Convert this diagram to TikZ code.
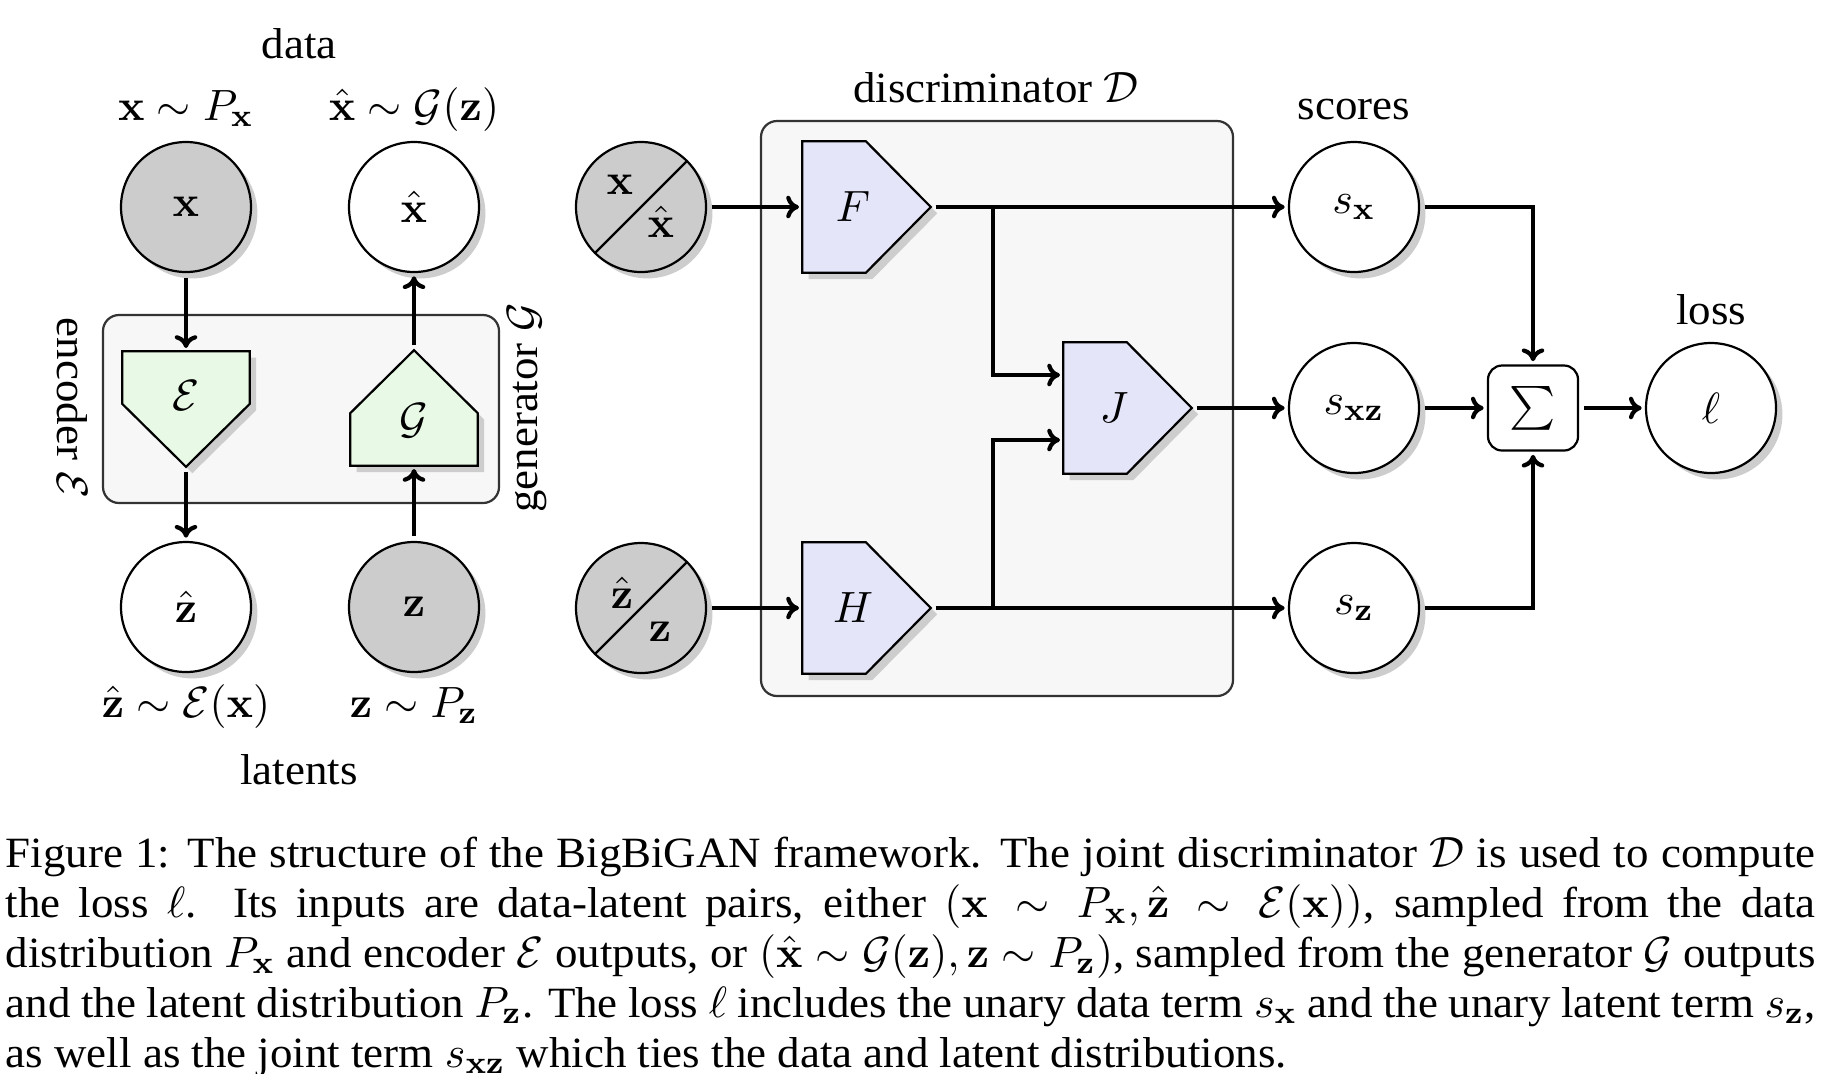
\documentclass[tikz,border=0pt]{standalone}
\usepackage{amsmath}
\usepackage[no-math]{fontspec}
\setmainfont{Liberation Serif}[FakeStretch=1.04]
\usetikzlibrary{shadows,arrows.meta,calc}
\definecolor{encfill}{RGB}{232,250,230}
\definecolor{disfill}{RGB}{229,229,250}
\definecolor{obsfill}{RGB}{204,204,204}
\definecolor{boxfill}{RGB}{247,247,247}
\definecolor{shadowgray}{RGB}{205,205,205}
\newcommand\pentdown[2]{\path[penta,fill=#2] (#1.north west) -- (#1.north east) -- ($(#1.south east)+(0,-63)$) -- (#1.south) -- ($(#1.south west)+(0,-63)$) -- cycle;}
\newcommand\pentup[2]{\path[penta,fill=#2] (#1.south west) -- (#1.south east) -- ($(#1.north east)+(0,63)$) -- (#1.north) -- ($(#1.north west)+(0,63)$) -- cycle;}
\newcommand\pentright[2]{\path[penta,fill=#2] (#1.north west) -- ($(#1.north east)+(-65,0)$) -- (#1.east) -- ($(#1.south east)+(-65,0)$) -- (#1.south west) -- cycle;}
\begin{document}
\begin{tikzpicture}[x=0.25pt,y=-0.25pt,
  lbl/.style={font=\fontsize{10.8}{13}\selectfont, inner sep=0pt},
  shadowed/.style={drop shadow={shadow xshift=1.6pt, shadow yshift=-1.6pt, fill=shadowgray, opacity=1}},
  var/.style={circle, draw, line width=0.55pt, minimum size=32.5pt, inner sep=0pt, fill=white, shadowed, font=\fontsize{10.8}{13}\selectfont},
  obs/.style={var, fill=obsfill},
  penta/.style={draw, line width=0.55pt, shadowed},
  hold/.style={rectangle, inner sep=0pt},
  groupbox/.style={draw=black!80, line width=0.55pt, rounded corners=4pt, fill=boxfill},
  sumbox/.style={draw, line width=0.55pt, rounded corners=3.5pt, fill=white, minimum width=22.5pt, minimum height=21.25pt, inner sep=0pt, font=\fontsize{11.2}{13}\selectfont},
  conn/.style={line width=1.05pt, -{To[length=3.2pt,width=5.6pt]}, shorten >=0.8pt, shorten <=1.2pt},
  capline/.style={anchor=base west, inner sep=0pt, font=\fontsize{10.8}{13}\selectfont}]
\useasboundingbox (0,0) rectangle (1827,1073);

% ---------- group boxes ----------
\path[groupbox] (103,315) rectangle (499,503);
\path[groupbox] (761,121) rectangle (1233,696);

% ---------- left part ----------
\node[obs] (x) at (186,207) {$\mathbf{x}$};
\node[var] (xh) at (414,207) {$\hat{\mathbf{x}}$};
\node[var] (zh) at (186,607) {$\hat{\mathbf{z}}$};
\node[obs] (z) at (414,607) {$\mathbf{z}$};

\node[hold, minimum width=31.5pt, minimum height=28.5pt] (E) at (186,409) {};
\pentdown{E}{encfill}
\node[lbl] (Elbl) at (186,396) {$\mathcal{E}$};
\node[hold, minimum width=31.5pt, minimum height=28.5pt] (G) at (414,408) {};
\pentup{G}{encfill}
\node[lbl] (Glbl) at (414,421) {$\mathcal{G}$};

\node[lbl, anchor=base] (data) at (299,58) {data};
\node[lbl, anchor=base] (lx) at (186,120) {$\mathbf{x}\sim P_{\mathbf{x}}$};
\node[lbl, anchor=base] (lxh) at (414,120) {$\hat{\mathbf{x}}\sim\mathcal{G}(\mathbf{z})$};
\node[lbl, anchor=base] (lzh) at (186,717) {$\hat{\mathbf{z}}\sim\mathcal{E}(\mathbf{x})$};
\node[lbl, anchor=base] (lz) at (414,717) {$\mathbf{z}\sim P_{\mathbf{z}}$};
\node[lbl, anchor=base] (latents) at (299,784) {latents};
\node[lbl, rotate=-90] (enclbl) at (72,408) {encoder $\mathcal{E}$};
\node[lbl, rotate=90] (genlbl) at (527,408) {generator $\mathcal{G}$};

\draw[conn] (x) -- (E.north);
\draw[conn] (E.south) -- (zh);
\draw[conn] (z) -- (G.south);
\draw[conn] (G.north) -- (xh);

% ---------- discriminator ----------
\node[obs] (xx) at (641,207) {};
\draw[line width=0.55pt] (xx.225) -- (xx.45);
\node[lbl] (xxa) at ($(xx)+(-21,-22)$) {$\mathbf{x}$};
\node[lbl] (xxb) at ($(xx)+(20,15)$) {$\hat{\mathbf{x}}$};
\node[obs] (zz) at (641,608) {};
\draw[line width=0.55pt] (zz.225) -- (zz.45);
\node[lbl] (zza) at ($(zz)+(-19,-15)$) {$\hat{\mathbf{z}}$};
\node[lbl] (zzb) at ($(zz)+(19,24)$) {$\mathbf{z}$};

\node[hold, minimum width=31.75pt, minimum height=32.5pt] (F) at (866.5,207) {};
\pentright{F}{disfill}
\node[lbl] (Flbl) at (853,207) {$F$};
\node[hold, minimum width=31.75pt, minimum height=32.5pt] (H) at (866.5,608) {};
\pentright{H}{disfill}
\node[lbl] (Hlbl) at (853,608) {$H$};
\node[hold, minimum width=31.75pt, minimum height=32.5pt] (J) at (1127.5,408) {};
\pentright{J}{disfill}
\node[lbl] (Jlbl) at (1114,408) {$J$};

\node[lbl, anchor=base] (disc) at (996,102) {discriminator $\mathcal{D}$};

% ---------- scores and loss ----------
\node[var] (sx) at (1354,207) {$s_{\mathbf{x}}$};
\node[var] (sxz) at (1354,408) {$s_{\mathbf{xz}}$};
\node[var] (sz) at (1354,608) {$s_{\mathbf{z}}$};
\node[sumbox] (sum) at (1533,408) {$\textstyle\sum$};
\node[var] (loss) at (1711,408) {$\ell$};
\node[lbl, anchor=base] (scores) at (1354,119) {scores};
\node[lbl, anchor=base] (losslbl) at (1711,324) {loss};

\coordinate (bF) at (993,207);
\coordinate (bH) at (993,608);
\coordinate (Jin1) at ($(J.west)+(0,-33)$);
\coordinate (Jin2) at ($(J.west)+(0,32)$);

\draw[conn] (xx) -- (F.west);
\draw[conn] (zz) -- (H.west);
\draw[conn] (F.east) -- (sx);
\draw[conn] (H.east) -- (sz);
\draw[conn, shorten <=0pt] (bF) |- (Jin1);
\draw[conn, shorten <=0pt] (bH) |- (Jin2);
\draw[conn] (J.east) -- (sxz);
\draw[conn] (sx) -| (sum);
\draw[conn] (sz) -| (sum);
\draw[conn] (sxz) -- (sum);
\draw[conn] (sum) -- (loss);

% ---------- caption ----------
\node[capline] (c1) at (5,867) {\makebox[452.5pt][s]{Figure 1: The structure of the BigBiGAN framework. The joint discriminator $\mathcal{D}$ is used to compute}};
\node[capline] (c2) at (5,917) {\makebox[452.5pt][s]{the loss $\ell$.\ \ Its inputs are data-latent pairs, either $(\mathbf{x}\sim P_{\mathbf{x}},\hat{\mathbf{z}}\sim\mathcal{E}(\mathbf{x}))$, sampled from the data}};
\node[capline] (c3) at (5,967) {\makebox[452.5pt][s]{distribution $P_{\mathbf{x}}$ and encoder $\mathcal{E}$ outputs, or $(\hat{\mathbf{x}}\sim\mathcal{G}(\mathbf{z}),\mathbf{z}\sim P_{\mathbf{z}})$, sampled from the generator $\mathcal{G}$ outputs}};
\node[capline] (c4) at (5,1017) {\makebox[452.5pt][s]{and the latent distribution $P_{\mathbf{z}}$. The loss $\ell$ includes the unary data term $s_{\mathbf{x}}$ and the unary latent term $s_{\mathbf{z}}$,}};
\node[capline] (c5) at (5,1067) {as well as the joint term $s_{\mathbf{xz}}$ which ties the data and latent distributions.};
\end{tikzpicture}
\end{document}
